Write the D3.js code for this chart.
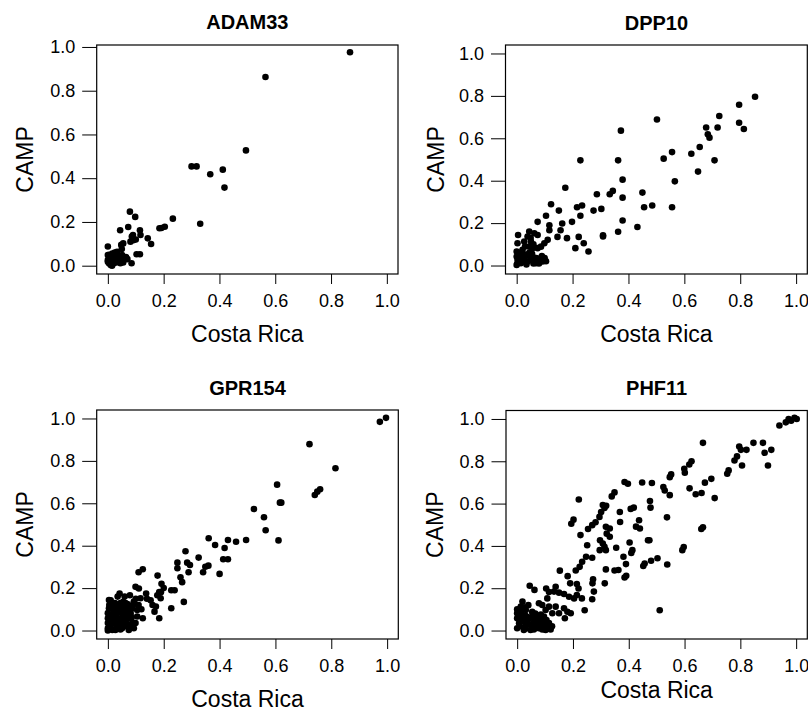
<!DOCTYPE html>
<html>
<head>
<meta charset="utf-8">
<script src="https://cdn.jsdelivr.net/npm/d3@7/dist/d3.min.js"></script>
<style>
  body { margin: 0; background: #fff; }
  svg { display: block; }
  .tick text { font-family: "Liberation Sans", Arial, sans-serif; font-size: 18px; fill: #000; }
  .title { font-family: "Liberation Sans", Arial, sans-serif; font-size: 20px; font-weight: bold; }
  .axis-label { font-family: "Liberation Sans", Arial, sans-serif; font-size: 23px; }
</style>
</head>
<body>
<div id="chart"></div>
<script>
const genes = ["ADAM33", "DPP10", "GPR154", "PHF11"];
const tickValues = [0, 0.2, 0.4, 0.6, 0.8, 1.0];
const xLabel = "Costa Rica";
const yLabel = "CAMP";

// [Costa Rica, CAMP]
const adam33 = [
  [0.868,0.976],[0.565,0.863],[0.495,0.527],[0.300,0.454],[0.318,0.454],[0.367,0.418],
  [0.412,0.439],[0.418,0.357],[0.331,0.192],[0.233,0.215],[0.204,0.178],[0.185,0.171],
  [0.192,0.172],[0.079,0.247],[0.098,0.223],[0.044,0.162],[0.073,0.177],[0.115,0.162],
  [0.117,0.140],[0.086,0.133],[0.093,0.117],[0.081,0.110],[0.143,0.125],[0.155,0.099],
  [0.055,0.102],[0.048,0.095],[0.000,0.088],[0.050,0.076],[0.103,0.052],[0.115,0.052],
  [0.085,0.011],[0.090,0.140],[0.100,0.120],[0.000,0.049],[0.004,0.034],[0.000,0.018],
  [0.010,0.003],[0.016,0.056],[0.027,0.049],[0.033,0.034],[0.039,0.018],[0.045,0.011],
  [0.022,0.026],[0.057,0.034],[0.004,0.011],[0.033,0.064],[0.012,0.041],[0.000,0.026],
  [0.051,0.049],[0.060,0.030],[0.020,0.010],[0.040,0.040],[0.010,0.030],[0.020,0.045],
  [0.030,0.015],[0.045,0.025],[0.055,0.015],[0.065,0.040],[0.025,0.060],[0.005,0.050],
  [0.070,0.030],[0.015,0.000]
];

const dpp10 = [
  [0.853,0.796],[0.796,0.758],[0.725,0.705],[0.796,0.673],[0.813,0.644],[0.678,0.651],
  [0.719,0.651],[0.684,0.619],[0.690,0.603],[0.655,0.559],[0.625,0.527],[0.708,0.496],
  [0.649,0.443],[0.556,0.535],[0.526,0.504],[0.566,0.397],[0.556,0.275],[0.502,0.689],
  [0.373,0.636],[0.363,0.496],[0.379,0.405],[0.379,0.320],[0.379,0.212],[0.363,0.159],
  [0.432,0.182],[0.450,0.344],[0.456,0.275],[0.485,0.283],[0.228,0.496],[0.174,0.367],
  [0.287,0.336],[0.333,0.336],[0.344,0.352],[0.275,0.259],[0.303,0.267],[0.216,0.275],
  [0.234,0.283],[0.228,0.235],[0.309,0.143],[0.309,0.137],[0.222,0.135],[0.240,0.105],
  [0.210,0.082],[0.257,0.066],[0.123,0.289],[0.151,0.259],[0.105,0.235],[0.075,0.206],
  [0.163,0.198],[0.198,0.206],[0.157,0.166],[0.146,0.135],[0.180,0.129],[0.117,0.190],
  [0.117,0.166],[0.111,0.121],[0.099,0.105],[0.087,0.089],[0.075,0.082],[0.005,0.144],
  [0.045,0.160],[0.039,0.137],[0.063,0.152],[0.075,0.144],[0.027,0.113],[0.051,0.113],
  [0.003,0.105],[0.045,0.089],[0.021,0.074],[0.057,0.082],[0.000,0.042],[0.003,0.027],
  [0.015,0.011],[0.027,0.035],[0.039,0.019],[0.051,0.027],[0.063,0.019],[0.075,0.027],
  [0.087,0.035],[0.099,0.027],[0.000,0.003],[0.009,0.058],[0.033,0.050],[0.057,0.042],
  [0.021,0.027],[0.069,0.011],[0.093,0.019],[0.000,0.066],[0.015,0.050],[0.003,0.011],
  [0.050,0.130],[0.060,0.100],[0.030,0.090],[0.045,0.060],[0.010,0.030],[0.020,0.060],
  [0.030,0.020],[0.045,0.045],[0.060,0.010],[0.070,0.035],[0.080,0.010],[0.090,0.045],
  [0.105,0.020],[0.100,0.035],[0.035,0.005],[0.055,0.055],[0.025,0.040],[0.012,0.060],
  [0.085,0.030]
];

const gpr154 = [
  [0.974,0.984],[0.996,1.003],[0.722,0.879],[0.815,0.765],[0.760,0.666],[0.750,0.655],
  [0.741,0.639],[0.606,0.688],[0.616,0.603],[0.621,0.603],[0.523,0.573],[0.559,0.534],
  [0.565,0.473],[0.611,0.425],[0.361,0.435],[0.384,0.403],[0.418,0.389],[0.430,0.427],
  [0.459,0.419],[0.495,0.427],[0.413,0.336],[0.430,0.336],[0.400,0.267],[0.325,0.344],
  [0.278,0.374],[0.249,0.320],[0.249,0.294],[0.284,0.320],[0.294,0.309],[0.289,0.275],
  [0.260,0.251],[0.266,0.228],[0.341,0.275],[0.349,0.301],[0.360,0.306],[0.110,0.275],
  [0.125,0.289],[0.178,0.259],[0.192,0.220],[0.184,0.182],[0.227,0.190],[0.239,0.190],
  [0.272,0.135],[0.227,0.105],[0.184,0.058],[0.167,0.089],[0.172,0.113],[0.189,0.152],
  [0.177,0.166],[0.153,0.143],[0.137,0.174],[0.125,0.058],[0.010,0.143],[0.042,0.174],
  [0.079,0.166],[0.099,0.206],[0.111,0.198],[0.117,0.152],[0.093,0.129],[0.105,0.097],
  [0.081,0.074],[0.000,0.035],[0.000,0.011],[0.000,0.058],[0.000,0.082],[0.004,0.105],
  [0.010,0.050],[0.010,0.019],[0.016,0.074],[0.022,0.097],[0.022,0.035],[0.027,0.003],
  [0.027,0.058],[0.033,0.121],[0.033,0.082],[0.039,0.027],[0.039,0.105],[0.045,0.129],
  [0.045,0.058],[0.051,0.089],[0.051,0.011],[0.057,0.113],[0.057,0.042],[0.063,0.074],
  [0.063,0.129],[0.069,0.097],[0.069,0.027],[0.075,0.058],[0.075,0.003],[0.081,0.113],
  [0.081,0.082],[0.087,0.035],[0.093,0.137],[0.004,0.144],[0.016,0.003],[0.000,0.000],
  [0.033,0.019],[0.093,0.011],[0.099,0.035],[0.105,0.066],[0.087,0.105],[0.140,0.150],
  [0.160,0.120],[0.190,0.180],[0.200,0.200],[0.005,0.020],[0.015,0.040],[0.025,0.065],
  [0.035,0.045],[0.045,0.030],[0.055,0.070],[0.065,0.050],[0.075,0.080],[0.085,0.060],
  [0.020,0.090],[0.030,0.110],[0.050,0.100],[0.060,0.115],[0.070,0.125],[0.080,0.090],
  [0.090,0.120],[0.040,0.085],[0.010,0.065],[0.015,0.115],[0.025,0.130],[0.055,0.135],
  [0.065,0.020],[0.085,0.015],[0.045,0.005],[0.005,0.120],[0.035,0.160],[0.060,0.160],
  [0.110,0.120],[0.120,0.100],[0.100,0.150]
];

const phf11 = [
  [0.940,0.969],[0.963,0.984],[0.973,1.000],[0.982,0.992],[0.994,1.005],[1.002,1.000],
  [0.666,0.887],[0.796,0.870],[0.802,0.854],[0.822,0.854],[0.847,0.887],[0.881,0.887],
  [0.911,0.854],[0.887,0.840],[0.788,0.823],[0.779,0.804],[0.806,0.780],[0.899,0.780],
  [0.758,0.757],[0.753,0.741],[0.696,0.717],[0.673,0.699],[0.618,0.672],[0.640,0.644],
  [0.661,0.650],[0.708,0.626],[0.666,0.488],[0.660,0.480],[0.597,0.395],[0.592,0.380],
  [0.625,0.800],[0.617,0.785],[0.599,0.765],[0.601,0.746],[0.552,0.738],[0.547,0.725],
  [0.483,0.697],[0.448,0.700],[0.385,0.702],[0.397,0.694],[0.524,0.678],[0.529,0.662],
  [0.547,0.640],[0.476,0.612],[0.478,0.581],[0.418,0.581],[0.407,0.575],[0.537,0.535],
  [0.349,0.653],[0.339,0.634],[0.221,0.619],[0.307,0.593],[0.313,0.579],[0.319,0.590],
  [0.301,0.560],[0.295,0.537],[0.281,0.512],[0.269,0.498],[0.254,0.480],[0.227,0.451],
  [0.202,0.524],[0.194,0.505],[0.368,0.560],[0.369,0.513],[0.437,0.521],[0.440,0.482],
  [0.426,0.491],[0.318,0.490],[0.332,0.482],[0.321,0.458],[0.332,0.443],[0.297,0.427],
  [0.307,0.411],[0.313,0.396],[0.318,0.380],[0.296,0.380],[0.251,0.403],[0.247,0.349],
  [0.269,0.344],[0.233,0.325],[0.224,0.301],[0.210,0.284],[0.474,0.427],[0.469,0.427],
  [0.403,0.416],[0.413,0.380],[0.409,0.367],[0.355,0.391],[0.381,0.349],[0.390,0.314],
  [0.391,0.259],[0.385,0.251],[0.363,0.286],[0.349,0.284],[0.318,0.289],[0.314,0.223],
  [0.457,0.317],[0.452,0.305],[0.480,0.330],[0.503,0.342],[0.538,0.312],[0.153,0.283],
  [0.181,0.257],[0.190,0.223],[0.214,0.220],[0.220,0.199],[0.214,0.168],[0.232,0.152],
  [0.272,0.242],[0.270,0.223],[0.275,0.184],[0.269,0.148],[0.242,0.096],[0.511,0.096],
  [0.045,0.212],[0.062,0.192],[0.104,0.199],[0.114,0.182],[0.138,0.207],[0.132,0.184],
  [0.150,0.179],[0.168,0.173],[0.186,0.160],[0.204,0.152],[0.108,0.152],[0.078,0.129],
  [0.090,0.121],[0.114,0.113],[0.138,0.113],[0.168,0.105],[0.180,0.089],[0.192,0.082],
  [0.171,0.058],[0.150,0.082],[0.126,0.082],[0.102,0.097],[0.019,0.137],[0.013,0.113],
  [0.031,0.097],[0.054,0.089],[0.000,0.082],[0.000,0.058],[0.019,0.066],[0.042,0.058],
  [0.066,0.050],[0.090,0.042],[0.114,0.035],[0.007,0.035],[0.031,0.027],[0.054,0.019],
  [0.078,0.011],[0.102,0.003],[0.114,0.011],[0.000,0.011],[0.024,0.003],[0.048,0.003],
  [0.072,0.035],[0.096,0.066],[0.037,0.042],[0.013,0.050],[0.000,0.100],[0.030,0.070],
  [0.060,0.060],[0.085,0.020],[0.010,0.020],[0.020,0.045],[0.035,0.065],[0.045,0.030],
  [0.060,0.040],[0.070,0.020],[0.080,0.050],[0.090,0.025],[0.100,0.030],[0.110,0.020],
  [0.120,0.005],[0.125,0.020],[0.005,0.060],[0.015,0.090],[0.025,0.110],[0.040,0.120],
  [0.055,0.075],[0.065,0.080],[0.075,0.070],[0.085,0.075],[0.095,0.055],[0.105,0.050],
  [0.030,0.010],[0.060,0.005],[0.090,0.005]
];

const series = [adam33, dpp10, gpr154, phf11];

// panel frames
const panels = [
  { left: 96.7, right: 398, top: 45, bottom: 274, yDomain: [-0.038, 1.009], titleY: 29, xLabY: 342, yLabX: 33 },
  { left: 505.5, right: 807.3, top: 45, bottom: 274, yDomain: [-0.04, 1.04], titleY: 29.5, xLabY: 342, yLabX: 443.5 },
  { left: 96.7, right: 398.3, top: 410, bottom: 639, yDomain: [-0.04, 1.04], titleY: 395, xLabY: 707, yLabX: 33 },
  { left: 506, right: 807.3, top: 410.5, bottom: 639, yDomain: [-0.04, 1.04], titleY: 394.5, xLabY: 697.5, yLabX: 443 }
];

const svg = d3.select("#chart").append("svg")
  .attr("width", 808)
  .attr("height", 711);

svg.append("rect").attr("width", 808).attr("height", 711).attr("fill", "#fff");

panels.forEach((p, i) => {
  const x = d3.scaleLinear().domain([-0.04, 1.04]).range([p.left, p.right]);
  const y = d3.scaleLinear().domain(p.yDomain).range([p.bottom, p.top]);
  const g = svg.append("g");

  g.append("g")
    .attr("transform", `translate(0,${p.bottom})`)
    .call(d3.axisBottom(x).tickValues(tickValues).tickFormat(d3.format(".1f")).tickSize(10).tickPadding(10))
    .call(a => a.select(".domain").remove())
    .call(a => a.selectAll(".tick line").attr("stroke", "#000"))
    .call(a => a.selectAll(".tick text").attr("font-family", null).attr("font-size", null));

  g.append("g")
    .attr("transform", `translate(${p.left},0)`)
    .call(d3.axisLeft(y).tickValues(tickValues).tickFormat(d3.format(".1f")).tickSize(14.5).tickPadding(7))
    .call(a => a.select(".domain").remove())
    .call(a => a.selectAll(".tick line").attr("stroke", "#000"))
    .call(a => a.selectAll(".tick text").attr("font-family", null).attr("font-size", null));

  g.append("rect")
    .attr("x", p.left)
    .attr("y", p.top)
    .attr("width", p.right - p.left)
    .attr("height", p.bottom - p.top)
    .attr("fill", "none")
    .attr("stroke", "#000")
    .attr("stroke-width", 1.2);

  g.append("g")
    .selectAll("circle")
    .data(series[i])
    .join("circle")
    .attr("cx", d => x(d[0]))
    .attr("cy", d => y(d[1]))
    .attr("r", 3.3)
    .attr("fill", "#000");

  const cx = (p.left + p.right) / 2;
  g.append("text")
    .attr("class", "title")
    .attr("x", cx)
    .attr("y", p.titleY)
    .attr("text-anchor", "middle")
    .text(genes[i]);

  g.append("text")
    .attr("class", "axis-label")
    .attr("x", cx)
    .attr("y", p.xLabY)
    .attr("text-anchor", "middle")
    .text(xLabel);

  g.append("text")
    .attr("class", "axis-label")
    .attr("transform", `translate(${p.yLabX},${(p.top + p.bottom) / 2}) rotate(-90)`)
    .attr("text-anchor", "middle")
    .text(yLabel);
});
</script>
</body>
</html>
